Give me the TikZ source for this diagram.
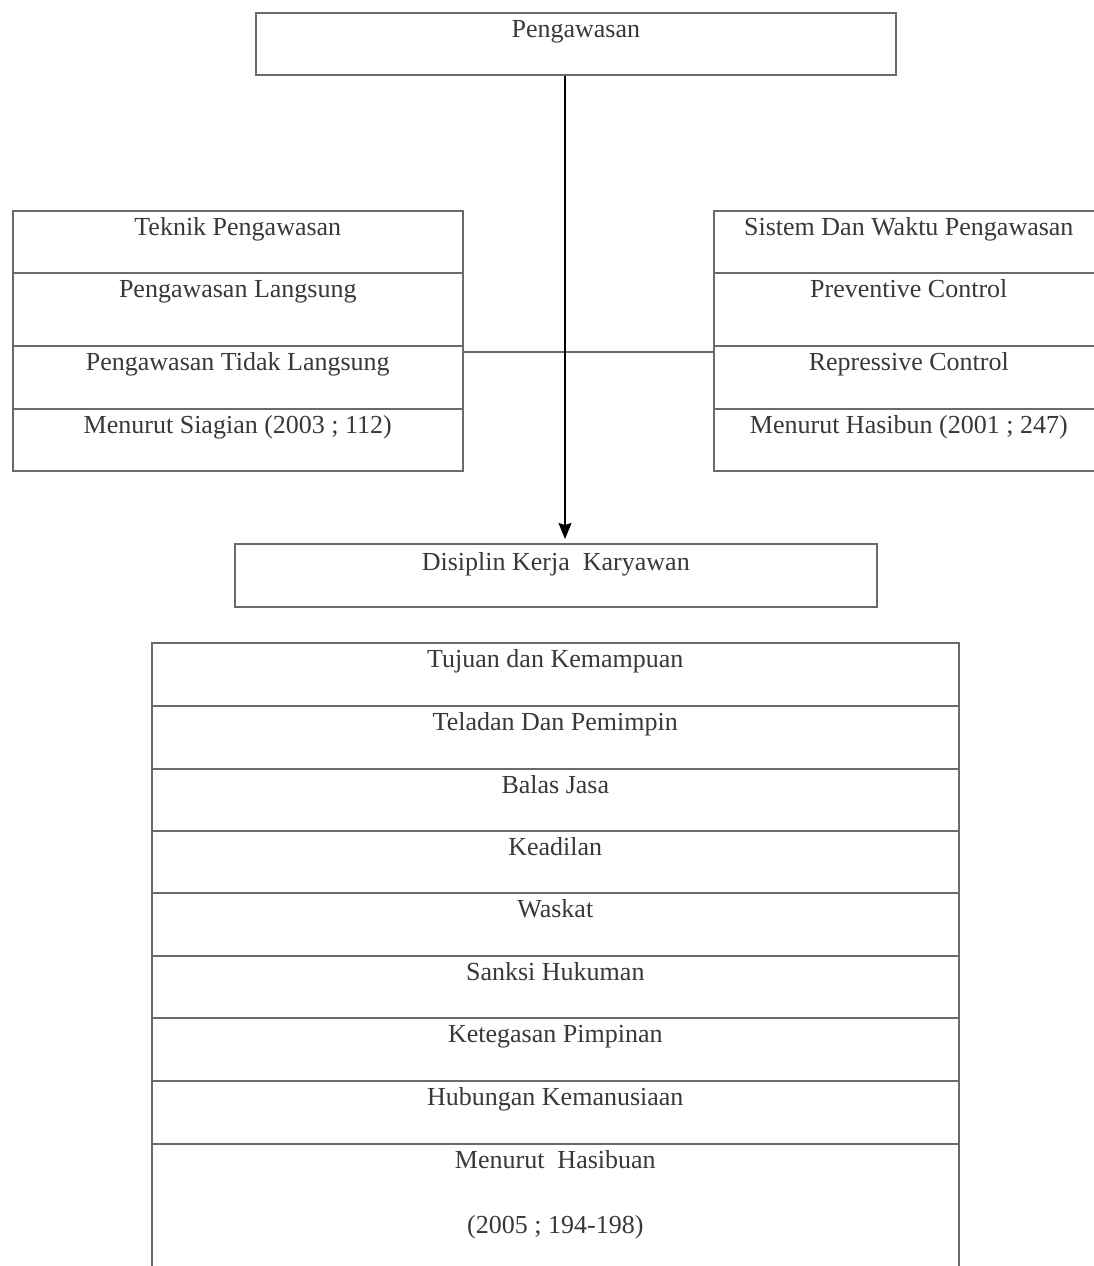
\documentclass[tikz,border=0pt]{standalone}
\usepackage{fontspec}
\setmainfont{Liberation Serif}
\usetikzlibrary{arrows.meta}
\definecolor{linegray}{HTML}{6A6A6A}
\definecolor{textgray}{HTML}{383838}
\begin{document}
\begin{tikzpicture}[x=1pt,y=-1pt,
  box/.style={draw=linegray, line width=1.6pt, rectangle, inner sep=0pt, anchor=north west},
  lbl/.style={anchor=base, inner sep=0pt, text=textgray, font=\fontsize{26}{30}\selectfont},
  conn/.style={draw=linegray, line width=1.8pt},
  arr/.style={draw=black, line width=1.5pt, -{Stealth[length=16pt,width=13pt,inset=2pt]}, shorten >=4pt},
]
\useasboundingbox (0,0) rectangle (1094,1266);
\clip (0,0) rectangle (1094,1266);

% top box
\node[box, minimum width=640pt, minimum height=62pt] (top) at (255,12) {};
\node[lbl] (topT) at ([yshift=-25pt]top.north) {Pengawasan};

% left table
\node[box, minimum width=450pt, minimum height=62pt] (l1) at (12,210) {};
\node[box, minimum width=450pt, minimum height=73pt] (l2) at (12,272) {};
\node[box, minimum width=450pt, minimum height=63pt] (l3) at (12,345) {};
\node[box, minimum width=450pt, minimum height=62pt] (l4) at (12,408) {};
\node[lbl] (l1T) at ([yshift=-25pt]l1.north) {Teknik Pengawasan};
\node[lbl] (l2T) at ([yshift=-25pt]l2.north) {Pengawasan Langsung};
\node[lbl] (l3T) at ([yshift=-25pt]l3.north) {Pengawasan Tidak Langsung};
\node[lbl] (l4T) at ([yshift=-25pt]l4.north) {Menurut Siagian (2003 ; 112)};

% right table
\node[box, minimum width=390pt, minimum height=62pt] (r1) at (713,210) {};
\node[box, minimum width=390pt, minimum height=73pt] (r2) at (713,272) {};
\node[box, minimum width=390pt, minimum height=63pt] (r3) at (713,345) {};
\node[box, minimum width=390pt, minimum height=62pt] (r4) at (713,408) {};
\node[lbl] (r1T) at ([yshift=-25pt]r1.north) {Sistem Dan Waktu Pengawasan};
\node[lbl] (r2T) at ([yshift=-25pt]r2.north) {Preventive Control};
\node[lbl] (r3T) at ([yshift=-25pt]r3.north) {Repressive Control};
\node[lbl] (r4T) at ([yshift=-25pt]r4.north) {Menurut Hasibun (2001 ; 247)};

% disiplin box
\node[box, minimum width=642pt, minimum height=63pt] (dk) at (234,543) {};
\node[lbl] (dkT) at ([yshift=-27pt]dk.north) {Disiplin Kerja~ Karyawan};

% bottom table
\foreach \t/\h/\s [count=\i] in {642/63/{Tujuan dan Kemampuan},705/63/{Teladan Dan Pemimpin},768/62/{Balas Jasa},830/62/{Keadilan},892/63/{Waskat},955/62/{Sanksi Hukuman},1017/63/{Ketegasan Pimpinan},1080/63/{Hubungan Kemanusiaan}}{
  \node[box, minimum width=807pt, minimum height=\h pt] (b\i) at (151,\t) {};
  \node[lbl] (b\i T) at ([yshift=-25pt]b\i.north) {\s};
}
\node[box, minimum width=807pt, minimum height=160pt] (b9) at (151,1143) {};
\node[lbl] (b9T) at ([yshift=-25pt]b9.north) {Menurut~ Hasibuan};
\node[lbl] (b9U) at ([yshift=-90pt]b9.north) {(2005 ; 194-198)};

% connectors
\coordinate (ax) at (565,0);
\coordinate (hy) at (0,352);
\draw[conn] (l3.east |- hy) -- (r3.west |- hy);
\draw[arr] (top.south -| ax) -- (dk.north -| ax);
\end{tikzpicture}
\end{document}
